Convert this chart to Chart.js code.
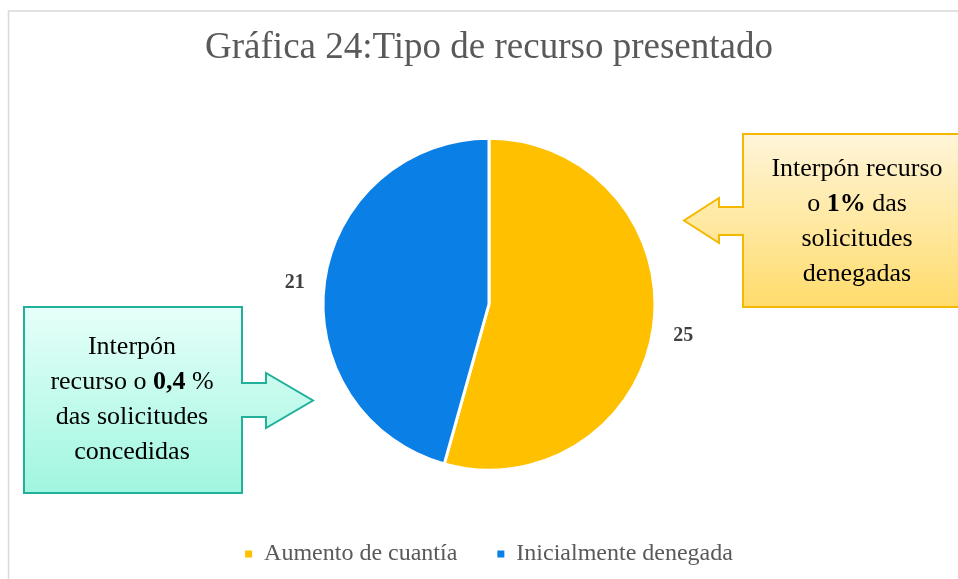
<!DOCTYPE html>
<html>
<head>
<meta charset="utf-8">
<script src="https://cdn.jsdelivr.net/npm/chart.js@4.4.0/dist/chart.umd.min.js"></script>
<style>
    body { margin: 0; background: #fff; }
</style>
</head>
<body>
<canvas id="recurso-chart" width="958" height="579"></canvas>
<script>
const chartTitle = 'Gráfica 24:Tipo de recurso presentado';
const categories = ['Aumento de cuantía', 'Inicialmente denegada'];
const recursos = [25, 21];
const sliceColors = ['#FFC000', '#0A7FE6'];

// callout texts, one entry per line, each line split in [text, bold] pieces
const rightNote = [
    [['Interpón recurso', false]],
    [['o ', false], ['1%', true], [' das', false]],
    [['solicitudes', false]],
    [['denegadas', false]],
];
const leftNote = [
    [['Interpón', false]],
    [['recurso o ', false], ['0,4', true], [' %', false]],
    [['das solicitudes', false]],
    [['concedidas', false]],
];

const serif = "'Liberation Serif', 'DejaVu Serif', serif";

function drawNoteText(ctx, lines, cx, y0, gap) {
    ctx.fillStyle = '#000';
    ctx.textBaseline = 'middle';
    ctx.textAlign = 'left';
    lines.forEach((line, i) => {
        let total = 0;
        line.forEach(part => {
            ctx.font = (part[1] ? 'bold ' : '') + '26px ' + serif;
            total += ctx.measureText(part[0]).width;
        });
        let x = cx - total / 2;
        line.forEach(part => {
            ctx.font = (part[1] ? 'bold ' : '') + '26px ' + serif;
            ctx.fillText(part[0], x, y0 + i * gap);
            x += ctx.measureText(part[0]).width;
        });
    });
}

function drawShape(ctx, pts, top, bottom, colTop, colBottom, stroke) {
    const grad = ctx.createLinearGradient(0, top, 0, bottom);
    grad.addColorStop(0, colTop);
    grad.addColorStop(1, colBottom);
    ctx.beginPath();
    ctx.moveTo(pts[0][0], pts[0][1]);
    for (let i = 1; i < pts.length; i++) {
        ctx.lineTo(pts[i][0], pts[i][1]);
    }
    ctx.closePath();
    ctx.fillStyle = grad;
    ctx.fill();
    ctx.lineWidth = 2;
    ctx.strokeStyle = stroke;
    ctx.lineJoin = 'miter';
    ctx.stroke();
}

const frame = {
    id: 'frame',
    beforeDraw(chart) {
        const ctx = chart.ctx;
        ctx.save();
        ctx.strokeStyle = '#D9D9D9';
        ctx.lineWidth = 1.5;
        ctx.beginPath();
        ctx.moveTo(8.5, 579);
        ctx.lineTo(8.5, 11);
        ctx.lineTo(958, 11);
        ctx.stroke();
        ctx.restore();
    }
};

const sliceLabels = {
    id: 'sliceLabels',
    afterDatasetsDraw(chart) {
        const ctx = chart.ctx;
        const meta = chart.getDatasetMeta(0);
        ctx.save();
        ctx.font = 'bold 20px ' + serif;
        ctx.fillStyle = '#404040';
        ctx.textAlign = 'center';
        ctx.textBaseline = 'middle';
        meta.data.forEach((arc, i) => {
            const p = arc.getProps(['x', 'y', 'startAngle', 'endAngle', 'outerRadius'], true);
            const mid = (p.startAngle + p.endAngle) / 2;
            const r = p.outerRadius + 30;
            ctx.fillText(String(recursos[i]), p.x + Math.cos(mid) * r, p.y + Math.sin(mid) * r + 5);
        });
        ctx.restore();
    }
};

const callouts = {
    id: 'callouts',
    afterDraw(chart) {
        const ctx = chart.ctx;
        ctx.save();
        drawShape(ctx, [
            [743, 134], [972, 134], [972, 307], [743, 307], [743, 235], [719, 235],
            [719, 243], [684, 220.5], [719, 198], [719, 207], [743, 207]
        ], 134, 307, '#FFF5D9', '#FFDC6C', '#F5B800');
        drawNoteText(ctx, rightNote, 857, 169, 35);

        drawShape(ctx, [
            [24, 307], [242, 307], [242, 383], [266, 383], [266, 373], [313, 400.5],
            [266, 428], [266, 417], [242, 417], [242, 493], [24, 493]
        ], 307, 493, '#E6FFF9', '#A0F6E0', '#22B09C');
        drawNoteText(ctx, leftNote, 132, 347, 35);
        ctx.restore();
    }
};

function drawChart() {
    const ctx = document.getElementById('recurso-chart').getContext('2d');
    const baseLabels = (Chart.overrides.pie || Chart.overrides.doughnut).plugins.legend.labels.generateLabels;
    new Chart(ctx, {
        type: 'pie',
        data: {
            labels: categories,
            datasets: [{
                data: recursos,
                backgroundColor: sliceColors,
                borderColor: '#FFFFFF',
                borderWidth: 3,
                radius: 166,
                hoverOffset: 0,
            }],
        },
        options: {
            responsive: false,
            animation: false,
            layout: {
                padding: { left: 20, right: 0, top: 0, bottom: 3 },
            },
            plugins: {
                title: {
                    display: true,
                    text: chartTitle,
                    color: '#595959',
                    font: { family: serif, size: 37, weight: 'normal' },
                    padding: { top: 26, bottom: 36 },
                },
                legend: {
                    position: 'bottom',
                    maxHeight: 78,
                    labels: {
                        boxWidth: 7,
                        boxHeight: 7,
                        padding: 40,
                        color: '#595959',
                        font: { family: serif, size: 24 },
                        generateLabels: function (chart) {
                            const items = baseLabels(chart);
                            items.forEach(item => {
                                item.lineWidth = 0;
                                item.strokeStyle = item.fillStyle;
                            });
                            return items;
                        },
                    },
                },
                tooltip: { enabled: false },
            },
        },
        plugins: [frame, sliceLabels, callouts],
    });
}

window.onload = () => {
    drawChart();
};
</script>
</body>
</html>
